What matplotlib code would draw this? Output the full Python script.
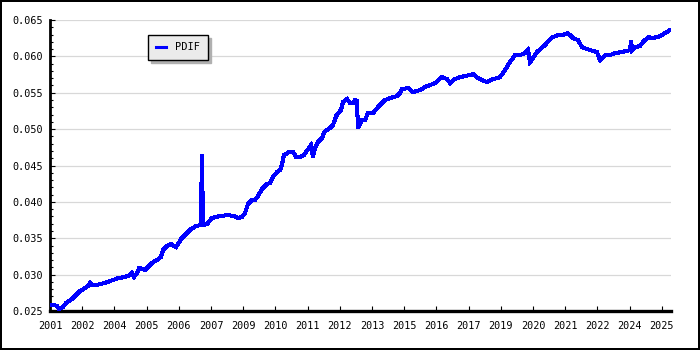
import numpy as np
import matplotlib
matplotlib.use("Agg")
import matplotlib.pyplot as plt
from matplotlib.ticker import MultipleLocator

# ---- data ----
years = [2001.00, 2001.16, 2001.27, 2001.35, 2001.43, 2001.51, 2001.63, 2001.75, 2001.86, 2001.98,
         2002.18, 2002.38, 2002.49, 2002.57, 2002.65, 2002.85, 2002.96, 2003.16, 2003.36, 2003.48,
         2003.67, 2003.95, 2004.14, 2004.22, 2004.30, 2004.42, 2004.50, 2004.65, 2004.73, 2004.85,
         2005.01, 2005.20, 2005.36, 2005.44, 2005.60, 2005.75, 2005.87, 2005.95, 2006.15, 2006.34,
         2006.54, 2006.74, 2006.93, 2006.97, 2007.01, 2007.17, 2007.36, 2007.68, 2007.99, 2008.23,
         2008.39, 2008.54, 2008.66, 2008.78, 2008.94, 2009.05, 2009.17, 2009.33, 2009.53, 2009.64,
         2009.76, 2009.92, 2010.04, 2010.12, 2010.19, 2010.39, 2010.55, 2010.67, 2010.82, 2010.98,
         2011.14, 2011.25, 2011.33, 2011.41, 2011.53, 2011.69, 2011.77, 2012.00, 2012.12, 2012.24,
         2012.43, 2012.51, 2012.67, 2012.79, 2012.90, 2012.98, 2013.06, 2013.10, 2013.26, 2013.38,
         2013.49, 2013.69, 2013.89, 2014.16, 2014.36, 2014.63, 2014.75, 2014.83, 2015.07, 2015.26,
         2015.54, 2015.73, 2015.93, 2016.13, 2016.40, 2016.60, 2016.72, 2016.91, 2017.11, 2017.31,
         2017.62, 2017.82, 2018.17, 2018.41, 2018.56, 2018.68, 2018.88, 2019.07, 2019.27, 2019.47,
         2019.66, 2019.78, 2019.86, 2019.98, 2020.13, 2020.45, 2020.65, 2020.76, 2020.96, 2021.12,
         2021.35, 2021.55, 2021.75, 2021.90, 2022.22, 2022.49, 2022.61, 2022.81, 2023.00, 2023.20,
         2023.47, 2023.79, 2023.83, 2023.87, 2023.98, 2024.18, 2024.30, 2024.50, 2024.69, 2024.97,
         2025.16, 2025.36]
pdif = [0.02582, 0.02582, 0.02569, 0.02527, 0.02541, 0.02555, 0.02610, 0.02637, 0.02665, 0.02706,
        0.02775, 0.02816, 0.02844, 0.02885, 0.02857, 0.02857, 0.02871, 0.02885, 0.02912, 0.02926,
        0.02953, 0.02967, 0.02995, 0.03022, 0.02967, 0.03022, 0.03091, 0.03077, 0.03063, 0.03105,
        0.03160, 0.03201, 0.03242, 0.03338, 0.03393, 0.03421, 0.03393, 0.03379, 0.03489, 0.03558,
        0.03627, 0.03668, 0.03682, 0.04657, 0.03682, 0.03695, 0.03778, 0.03805, 0.03819, 0.03805,
        0.03778, 0.03792, 0.03847, 0.03970, 0.04025, 0.04025, 0.04080, 0.04176, 0.04245, 0.04259,
        0.04341, 0.04410, 0.04437, 0.04520, 0.04643, 0.04685, 0.04685, 0.04616, 0.04616, 0.04643,
        0.04726, 0.04781, 0.04616, 0.04740, 0.04822, 0.04877, 0.04959, 0.05014, 0.05056, 0.05179,
        0.05262, 0.05372, 0.05413, 0.05358, 0.05358, 0.05399, 0.05385, 0.05014, 0.05124, 0.05124,
        0.05221, 0.05221, 0.05303, 0.05399, 0.05427, 0.05454, 0.05495, 0.05550, 0.05564, 0.05509,
        0.05537, 0.05578, 0.05605, 0.05633, 0.05715, 0.05688, 0.05633, 0.05688, 0.05715, 0.05729,
        0.05756, 0.05701, 0.05646, 0.05688, 0.05701, 0.05715, 0.05811, 0.05921, 0.06017, 0.06017,
        0.06045, 0.06086, 0.05921, 0.05976, 0.06059, 0.06155, 0.06237, 0.06265, 0.06292, 0.06292,
        0.06320, 0.06251, 0.06224, 0.06127, 0.06086, 0.06059, 0.05949, 0.06017, 0.06017, 0.06045,
        0.06059, 0.06086, 0.06210, 0.06086, 0.06127, 0.06141, 0.06196, 0.06265, 0.06251, 0.06278,
        0.06320, 0.06361]
x_tick_labels = ["2001", "2002", "2004", "2005", "2006", "2007", "2009", "2010", "2011", "2012",
                 "2013", "2015", "2016", "2017", "2019", "2020", "2021", "2022", "2024", "2025"]
series_name = "PDIF"

# ---- figure ----
W, H = 700, 350
fig = plt.figure(figsize=(W / 100, H / 100), dpi=100)
fig.patch.set_facecolor("white")
fig.patch.set_edgecolor("black")
fig.patch.set_linewidth(1.6)

ax = fig.add_axes([50 / W, 1 - 311 / H, (671 - 50) / W, (311 - 20) / H])

ax.plot(years, pdif, color="#0000ff", lw=2.2, label=series_name,
        antialiased=False, solid_joinstyle="miter", zorder=3)

x0 = 2001.0
step = 1.2651
ax.set_xlim(x0, 2025.40)
ax.set_ylim(0.025, 0.065)
ax.set_xticks(x0 + step * np.arange(len(x_tick_labels)))
ax.set_xticklabels(x_tick_labels)
ax.yaxis.set_major_locator(MultipleLocator(0.005))
ax.yaxis.set_minor_locator(MultipleLocator(0.001))
ax.yaxis.set_major_formatter(plt.FuncFormatter(lambda v, p: f"{v:.3f}"))

mono = "DejaVu Sans Mono"
for lab in ax.get_xticklabels() + ax.get_yticklabels():
    lab.set_fontfamily(mono)
    lab.set_fontsize(7.3)

ax.tick_params(axis="y", which="major", direction="in", length=3.6, width=0.8, pad=5)
ax.tick_params(axis="y", which="minor", direction="in", length=2.2, width=0.8)
ax.tick_params(axis="x", which="major", direction="in", length=3.6, width=0.8, pad=7)

ax.grid(axis="y", which="major", color="#d8d8d8", lw=0.9, zorder=0)
ax.set_axisbelow(True)
for s in ("top", "right"):
    ax.spines[s].set_visible(False)
ax.spines["left"].set_linewidth(2.0)
ax.spines["bottom"].set_linewidth(2.4)

leg = ax.legend(loc="upper left", bbox_to_anchor=(148 / W, 1 - 35 / H),
                bbox_transform=fig.transFigure, borderaxespad=0,
                prop={"family": mono, "size": 7.5}, frameon=True, fancybox=False,
                framealpha=1, facecolor="#ebebeb", edgecolor="black",
                handlelength=1.0, handletextpad=0.9, borderpad=0.72,
                shadow={"ox": 2.2, "oy": -2.2, "facecolor": "#b0b0b0",
                        "edgecolor": "#b0b0b0", "alpha": 1})
leg.get_frame().set_linewidth(1.0)

fig.savefig("out.png", dpi=100, facecolor=fig.get_facecolor(), edgecolor=fig.get_edgecolor())
